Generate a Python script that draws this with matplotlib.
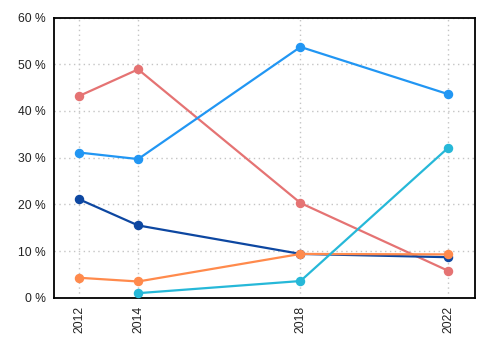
import matplotlib
matplotlib.use("Agg")
import matplotlib.pyplot as plt
from matplotlib.ticker import FuncFormatter

plt.rcParams['font.family'] = ['Liberation Sans', 'DejaVu Sans']

# survey waves (position on the time axis) and their labels
x_pos = [2012.0, 2013.6, 2018.0, 2022.0]
x_labels = ['2012', '2014', '2018', '2022']

red = [43.2, 48.9, 20.3, 5.8]
blue = [31.1, 29.7, 53.7, 43.6]
navy = [21.1, 15.5, 9.4, 8.7]
orange = [4.3, 3.5, 9.4, 9.3]
cyan = [None, 1.0, 3.6, 32.1]

series = [
    (red, '#e57373'),
    (blue, '#2196f3'),
    (navy, '#0d47a1'),
    (orange, '#ff8a4c'),
    (cyan, '#26b8d8'),
]

fig = plt.figure(figsize=(5, 3.5), dpi=100)
ax = fig.add_axes([0.108, 0.149, 0.842, 0.801])

for vals, col in series:
    xs = [x for x, v in zip(x_pos, vals) if v is not None]
    ys = [v for v in vals if v is not None]
    ax.plot(xs, ys, color=col, lw=1.6, marker='o', ms=5.8, zorder=3)

ax.set_xlim(2011.32, 2022.73)
ax.set_ylim(0, 60)
ax.set_yticks(range(0, 61, 10))
ax.yaxis.set_major_formatter(FuncFormatter(lambda v, p: f'{int(v)} %'))
ax.set_xticks(x_pos)
ax.set_xticklabels(x_labels, rotation=90)
ax.tick_params(length=0, labelsize=8.7, colors='#222222', pad=6)
ax.grid(True, ls=(0, (1, 2.5)), color='#c4c4c4', lw=1.0)
for s in ax.spines.values():
    s.set_color('black')
    s.set_linewidth(1.3)

fig.savefig('out.png', dpi=100)
